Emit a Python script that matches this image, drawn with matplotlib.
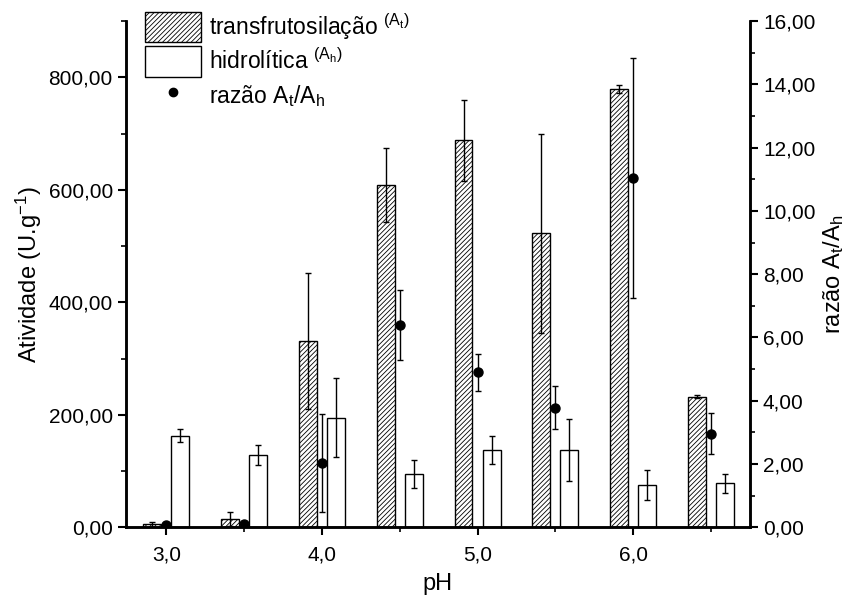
import matplotlib
matplotlib.use("Agg")
import matplotlib.pyplot as plt
from matplotlib.lines import Line2D
from matplotlib.ticker import MultipleLocator, FuncFormatter

plt.rcParams['font.family'] = ['Liberation Sans', 'DejaVu Sans']
plt.rcParams['hatch.linewidth'] = 0.6
plt.rcParams['hatch.color'] = '#555555'

# dados
ph = [3.0, 3.5, 4.0, 4.5, 5.0, 5.5, 6.0, 6.5]
transf = [5, 15, 332, 608, 688, 523, 780, 232]
transf_err = [5, 12, 121, 66, 72, 177, 7, 3]
hidro = [163, 128, 195, 95, 138, 138, 75, 78]
hidro_err = [12, 18, 70, 25, 25, 55, 27, 17]
razao = [0.08, 0.1, 2.03, 6.4, 4.9, 3.78, 11.05, 2.95]
razao_err = [0.05, 0.05, 1.55, 1.1, 0.58, 0.68, 3.8, 0.65]

w = 0.115
off = 0.09

fig = plt.figure(figsize=(8.53, 6.06), dpi=100)
ax = fig.add_axes([0.1477, 0.130, 0.7313, 0.835])
ax2 = ax.twinx()

ekw = dict(ecolor='black', elinewidth=1.0, capsize=2, capthick=1.0)
b1 = ax.bar([p - off for p in ph], transf, w, yerr=transf_err, color='white',
            edgecolor='black', hatch='///////', linewidth=1.0, error_kw=ekw,
            label='transfrutosilação $\\mathregular{^{(A_t)}}$')
b2 = ax.bar([p + off for p in ph], hidro, w, yerr=hidro_err, color='white',
            edgecolor='black', linewidth=1.0, error_kw=ekw,
            label='hidrolítica $\\mathregular{^{(A_h)}}$')
ax2.errorbar(ph, razao, yerr=razao_err, fmt='o', color='black',
             markersize=6.5, elinewidth=1.0, capsize=2, capthick=1.0)
dot = Line2D([], [], marker='o', linestyle='none', color='black', markersize=6,
             label='razão A$\\mathregular{_t}$/A$\\mathregular{_h}$')

ax.set_xlim(2.74, 6.75)
ax.set_ylim(0, 900)
ax2.set_ylim(0, 16)

ax.set_xticks([3, 4, 5, 6])
ax.xaxis.set_minor_locator(MultipleLocator(0.5))
ax.yaxis.set_major_locator(MultipleLocator(200))
ax.yaxis.set_minor_locator(MultipleLocator(100))
ax2.yaxis.set_major_locator(MultipleLocator(2))
ax2.yaxis.set_minor_locator(MultipleLocator(1))

ax.xaxis.set_major_formatter(FuncFormatter(lambda v, p: f"{v:.1f}".replace('.', ',')))
ax.yaxis.set_major_formatter(FuncFormatter(lambda v, p: f"{v:.2f}".replace('.', ',')))
ax2.yaxis.set_major_formatter(FuncFormatter(lambda v, p: f"{v:.2f}".replace('.', ',')))

for a in (ax, ax2):
    a.spines['top'].set_visible(False)
    for s in a.spines.values():
        s.set_linewidth(1.8)
    a.tick_params(which='major', direction='out', length=6, width=1.5, labelsize=15)
    a.tick_params(which='minor', direction='out', length=3.5, width=1.2)
ax.tick_params(axis='x', pad=7)

ax.set_xlabel('pH', fontsize=17, labelpad=6)
ax.set_ylabel('Atividade (U.g$\\mathregular{^{-1}}$)', fontsize=17, labelpad=3)
ax2.set_ylabel('razão A$\\mathregular{_t}$/A$\\mathregular{_h}$', fontsize=17,
               rotation=90, labelpad=4)

fig.legend(handles=[b1, b2, dot], loc='upper left', bbox_to_anchor=(0.159, 0.997),
           frameon=False, fontsize=16.5, handlelength=2.45, handleheight=1.66,
           handletextpad=0.35, labelspacing=0.17, borderaxespad=0)

fig.savefig('out.png', dpi=100)
